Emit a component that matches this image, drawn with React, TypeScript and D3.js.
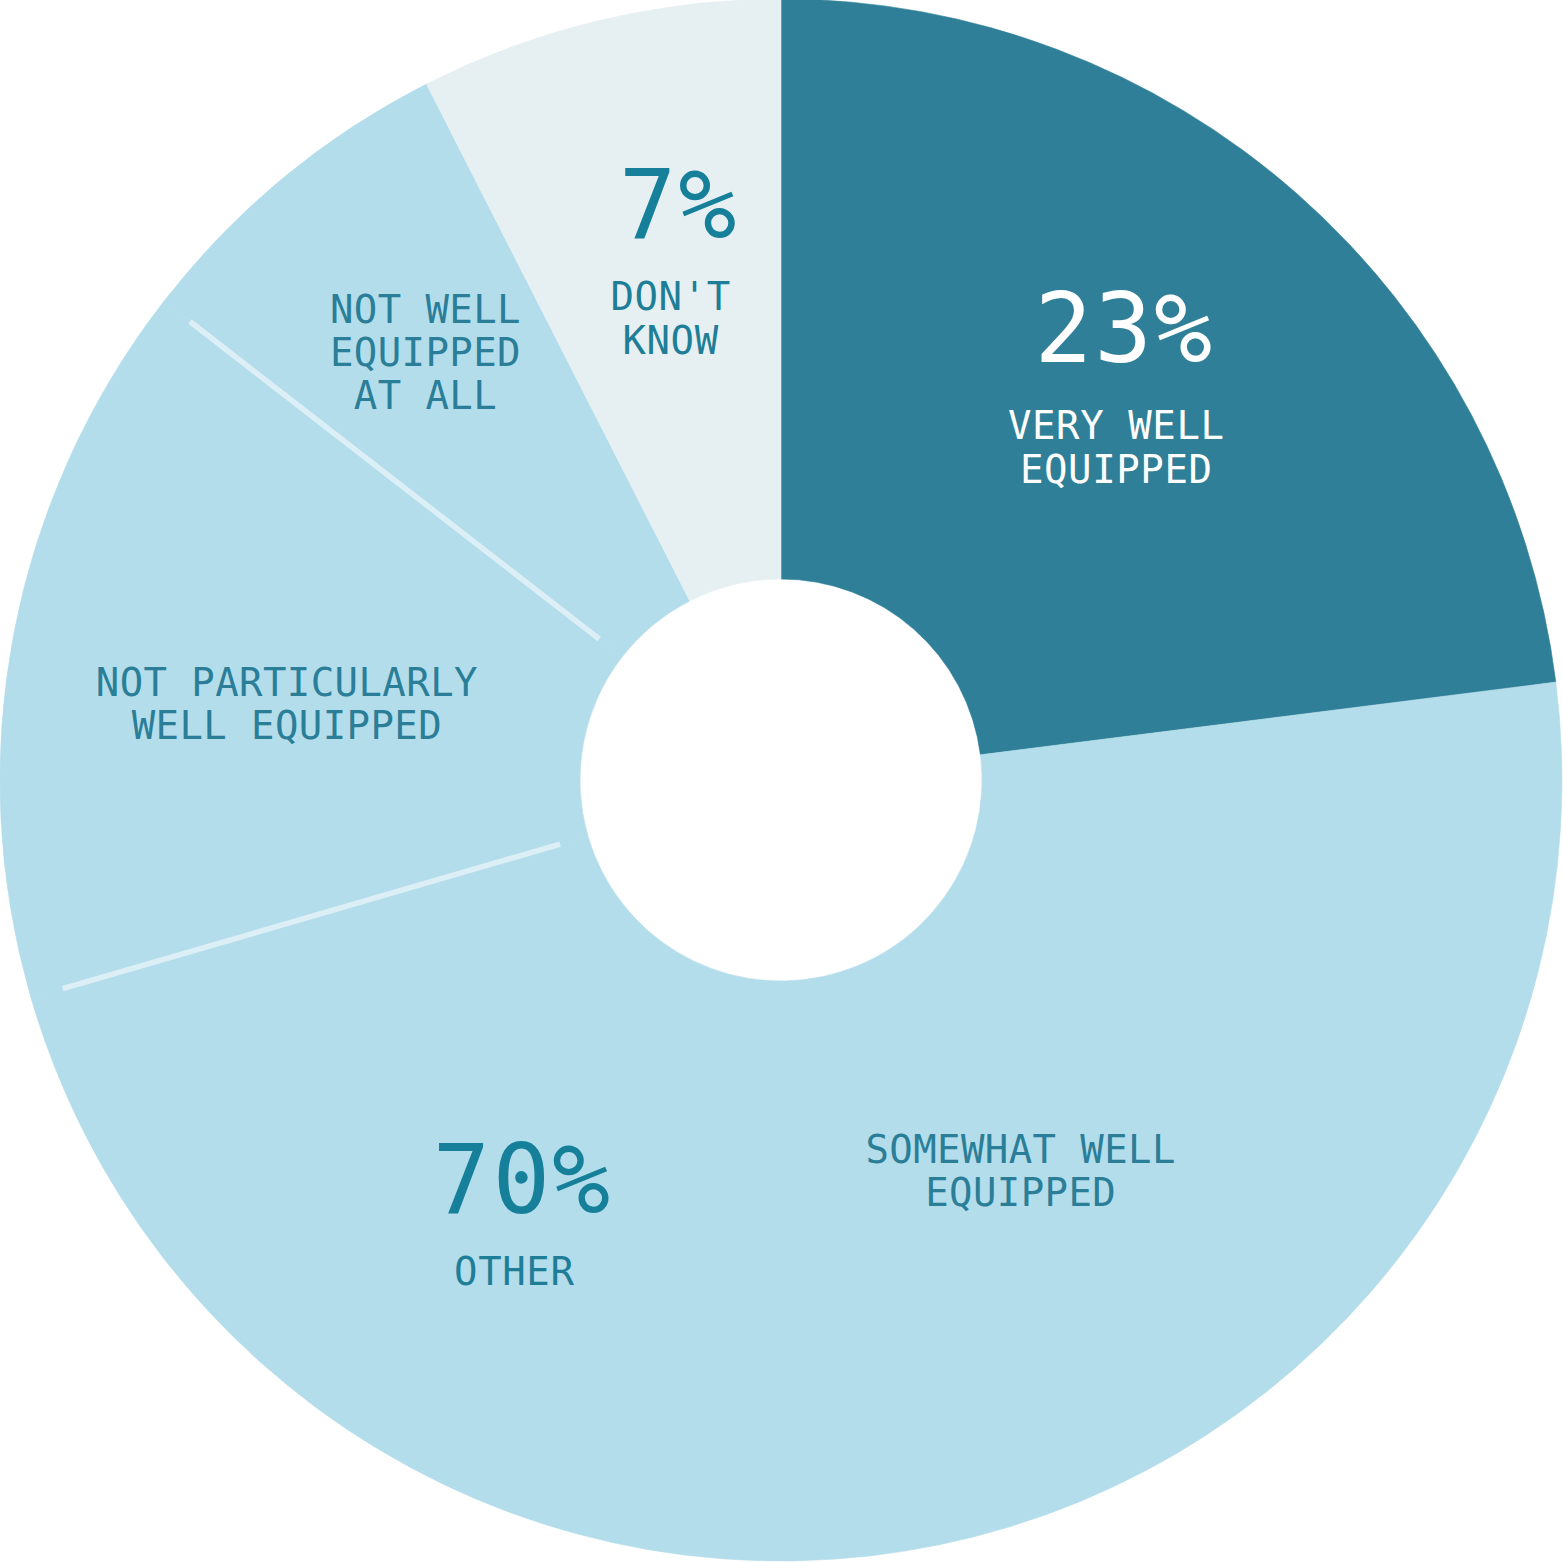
import * as d3 from "d3";
import { useRef, useEffect } from "react";

// answer shares (percent), clockwise from 12 o'clock
const categories = [
  "Very well equipped",
  "Somewhat well equipped",
  "Not particularly well equipped",
  "Not well equipped at all",
  "Don't know",
];
const shares = [23, 47.5, 15, 7, 7.5];
const groups = ["very", "other", "other", "other", "dontknow"];
const groupNames = ["very", "other", "dontknow"];
const groupPercents = ["23%", "70%", "7%"];
const groupLabels = [["VERY WELL", "EQUIPPED"], ["OTHER"], ["DON'T", "KNOW"]];
const subLabels = [
  null,
  ["SOMEWHAT WELL", "EQUIPPED"],
  ["NOT PARTICULARLY", "WELL EQUIPPED"],
  ["NOT WELL", "EQUIPPED", "AT ALL"],
  null,
];

const colors = { very: "#2F7F98", other: "#B3DDEB", dontknow: "#E6F0F3" };
const textColors = { very: "#FFFFFF", other: "#16809B", dontknow: "#16809B" };

export default function App() {
  const ref = useRef(null);
  const width = 1563;
  const height = 1563;

  useEffect(() => {
    const svg = d3.select(ref.current);
    svg.selectAll("*").remove();

    const cx = 781;
    const cy = 780;
    const outer = 781;
    const inner = 201;
    const font = "'DejaVu Sans Mono', monospace";

    const data = categories.map((c, i) => ({ name: c, value: shares[i], group: groups[i], label: subLabels[i] }));
    const pie = d3.pie().value(d => d.value).sort(null);
    const arcs = pie(data);

    const arc = d3.arc().innerRadius(inner).outerRadius(outer);

    const g = svg.append("g").attr("transform", `translate(${cx},${cy})`);

    g.selectAll("path.slice")
      .data(arcs)
      .join("path")
      .attr("class", "slice")
      .attr("d", arc)
      .attr("fill", d => colors[d.data.group])
      .attr("stroke", d => colors[d.data.group])
      .attr("stroke-width", 0.6);

    // separator lines between sub-answers inside "other"
    const seps = arcs.filter((d, i) => i > 0 && d.data.group === "other" && arcs[i - 1].data.group === "other");
    g.selectAll("line.sep")
      .data(seps)
      .join("line")
      .attr("class", "sep")
      .attr("x1", d => Math.sin(d.startAngle) * 230)
      .attr("y1", d => -Math.cos(d.startAngle) * 230)
      .attr("x2", d => Math.sin(d.startAngle) * 748)
      .attr("y2", d => -Math.cos(d.startAngle) * 748)
      .attr("stroke", "#DDEFF6")
      .attr("stroke-width", 5.5);

    // group totals
    const groupArcs = groupNames.map((gn, k) => {
      const parts = arcs.filter(a => a.data.group === gn);
      return {
        name: gn,
        startAngle: d3.min(parts, p => p.startAngle),
        endAngle: d3.max(parts, p => p.endAngle),
        percent: groupPercents[k],
        lines: groupLabels[k],
      };
    });
    const groupPlace = {
      very: { r: 510, dx: -2, dy: -35, gap: 77 },
      other: { r: 523, dx: -22, dy: -29, gap: 72 },
      dontknow: { r: 520, dx: 11, dy: -36, gap: 72 },
    };

    groupArcs.forEach(ga => {
      const p = groupPlace[ga.name];
      const [x, y] = d3.arc().innerRadius(p.r).outerRadius(p.r).centroid(ga);
      const bx = x + p.dx;
      const by = y + p.dy;
      const col = textColors[ga.name];
      g.append("text")
        .attr("x", bx + 8)
        .attr("y", by)
        .attr("text-anchor", "middle")
        .style("font-family", font)
        .style("font-size", "96px")
        .style("letter-spacing", "2px")
        .attr("fill", col)
        .text(ga.percent);
      ga.lines.forEach((ln, j) => {
        g.append("text")
          .attr("x", bx)
          .attr("y", by + p.gap + j * 44)
          .attr("text-anchor", "middle")
          .style("font-family", font)
          .style("font-size", "39px")
          .style("letter-spacing", "0.6px")
          .attr("fill", ga.name === "very" ? col : "#1F7E97")
          .text(ln);
      });
    });

    // sub-answer labels
    const subPlace = [
      null,
      { r: 452, dx: 148, dy: -60 },
      { r: 500, dx: -3, dy: 10 },
      { r: 550, dx: -5, dy: -33 },
      null,
    ];
    arcs.forEach((a, i) => {
      if (!a.data.label) return;
      const p = subPlace[i];
      const [x, y] = d3.arc().innerRadius(p.r).outerRadius(p.r).centroid(a);
      a.data.label.forEach((ln, j) => {
        g.append("text")
          .attr("x", x + p.dx)
          .attr("y", y + p.dy + j * 43)
          .attr("text-anchor", "middle")
          .style("font-family", font)
          .style("font-size", "39px")
          .style("letter-spacing", "0.4px")
          .attr("fill", "#2B7E97")
          .text(ln);
      });
    });
  }, []);

  return (
    <svg
      ref={ref}
      width={width}
      height={height}
      style={{ position: "absolute", left: 0, top: 0, background: "#FFFFFF" }}
    />
  );
}
